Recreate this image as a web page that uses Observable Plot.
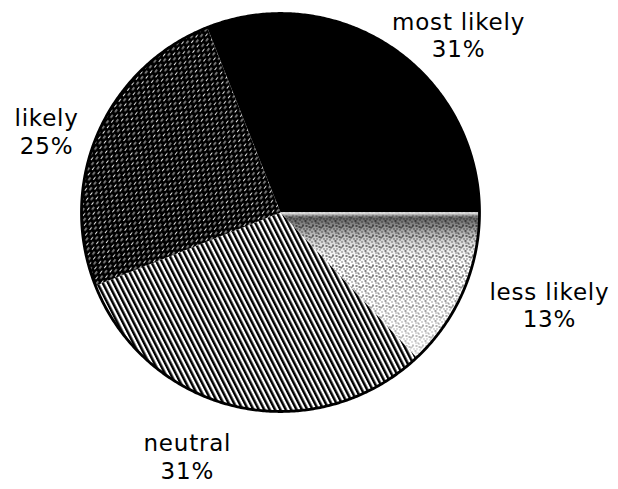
<!DOCTYPE html>
<html>
<head>
<meta charset="utf-8">
<script src="https://cdn.jsdelivr.net/npm/d3@7"></script>
<script src="https://cdn.jsdelivr.net/npm/@observablehq/plot@0.6"></script>
<style>
  html, body { margin: 0; padding: 0; background: #fff; }
  #defs { position: absolute; width: 0; height: 0; overflow: hidden; }
</style>
</head>
<body>
<svg id="defs" width="0" height="0" aria-hidden="true">
  <defs>
    <!-- stippled texture -->
    <pattern id="stipple" patternUnits="userSpaceOnUse" width="10" height="10">
      <rect width="10" height="10" fill="#fff"/>
      <g fill="#000">
        <rect x="1" y="1" width="1" height="1"/>
        <rect x="4" y="0" width="2" height="1"/>
        <rect x="7" y="2" width="1" height="1"/>
        <rect x="2" y="4" width="1" height="2"/>
        <rect x="5" y="5" width="2" height="1"/>
        <rect x="8" y="6" width="2" height="1"/>
        <rect x="0" y="7" width="1" height="1"/>
        <rect x="3" y="8" width="1" height="1"/>
        <rect x="6" y="8" width="1" height="1"/>
        <rect x="9" y="9" width="1" height="1"/>
        <rect x="5" y="2" width="1" height="1"/>
        <rect x="1" y="6" width="1" height="1"/>
        <rect x="8" y="3" width="1" height="1"/>
      </g>
    </pattern>
    <linearGradient id="fade" x1="0" y1="0" x2="0" y2="1">
      <stop offset="0" stop-color="#fff" stop-opacity="0.9"/>
      <stop offset="0.04" stop-color="#000" stop-opacity="0.6"/>
      <stop offset="0.16" stop-color="#000" stop-opacity="0.25"/>
      <stop offset="0.38" stop-color="#fff" stop-opacity="0"/>
      <stop offset="1" stop-color="#fff" stop-opacity="0.6"/>
    </linearGradient>
    <!-- diagonal stripes -->
    <pattern id="diag" patternUnits="userSpaceOnUse" width="4.8" height="10" patternTransform="rotate(-27)">
      <rect width="4.8" height="10" fill="#fff"/>
      <rect width="2.5" height="10" fill="#000"/>
    </pattern>
    <!-- dense dark hatch -->
    <pattern id="dense" patternUnits="userSpaceOnUse" width="7" height="7" patternTransform="rotate(-52)">
      <rect width="7" height="7" fill="#000"/>
      <rect x="0" y="1" width="3.4" height="0.9" fill="#fff"/>
      <rect x="3.5" y="4.5" width="3.4" height="0.9" fill="#fff"/>
    </pattern>
  </defs>
</svg>
<div id="chart"></div>
<script>
// ---- data ----
const categories = ["most likely", "less likely", "neutral", "likely"];
const percents = [31, 13, 31, 25];

// ---- styles (not data) ----
const fillOf = {
  "most likely": "#000",
  "less likely": "url(#stipple)",
  "neutral": "url(#diag)",
  "likely": "url(#dense)"
};
// label nudges in pixels from the mid-angle anchor
const nudgeOf = {
  "most likely": [36, 31],
  "less likely": [37, -8],
  "neutral": [-38, -3],
  "likely": [-2, 19]
};

// ---- layout ----
const W = 618, H = 489, cx = 280, cy = 212, R = 199;
const labelR = 1.27;

const rows = categories.map((c, i) => ({category: c, value: percents[i]}));
const total = d3.sum(percents);
const start = Math.PI / 2 - percents[0] / total * 2 * Math.PI; // first slice ends at 3 o'clock
const arcs = d3.pie().sort(null).value(d => d.value)
  .startAngle(start).endAngle(start + 2 * Math.PI)(rows);

const polys = arcs.flatMap(a => {
  const c = a.data.category;
  const n = Math.max(2, Math.ceil((a.endAngle - a.startAngle) / (Math.PI / 360)));
  const pts = [{category: c, x: 0, y: 0}];
  for (let k = 0; k <= n; k++) {
    const t = a.startAngle + (a.endAngle - a.startAngle) * k / n;
    pts.push({category: c, x: Math.sin(t), y: Math.cos(t)});
  }
  pts.push({category: c, x: 0, y: 0});
  return pts;
});

const circle = d3.range(0, 721).map(k => {
  const t = k / 720 * 2 * Math.PI;
  return {x: Math.sin(t), y: Math.cos(t)};
});

const labels = arcs.map(a => {
  const m = (a.startAngle + a.endAngle) / 2;
  return {
    category: a.data.category,
    x: Math.sin(m) * labelR,
    y: Math.cos(m) * labelR,
    text: `${a.data.category}\n${a.data.value}%`
  };
});

const textMarks = labels.map(l => Plot.text([l], {
  x: "x", y: "y", text: "text",
  dx: nudgeOf[l.category][0], dy: nudgeOf[l.category][1],
  fontSize: 23, lineHeight: 1.2, lineAnchor: "middle", textAnchor: "middle",
  fill: "#000", fontFamily: "DejaVu Sans"
}));

const plot = Plot.plot({
  width: W, height: H,
  marginTop: 0, marginRight: 0, marginBottom: 0, marginLeft: 0,
  x: {domain: [-cx / R, (W - cx) / R], axis: null},
  y: {domain: [-(H - cy) / R, cy / R], axis: null},
  color: {type: "identity"},
  style: {background: "#fff", letterSpacing: "0.8px"},
  marks: [
    Plot.line(polys, {x: "x", y: "y", z: "category", fill: d => fillOf[d.category], stroke: "none"}),
    Plot.line(polys.filter(d => d.category === "less likely"), {x: "x", y: "y", fill: "url(#fade)", stroke: "none"}),
    Plot.line(circle, {x: "x", y: "y", stroke: "#000", strokeWidth: 2.8, fill: "none"}),
    ...textMarks
  ]
});
document.getElementById("chart").appendChild(plot);
</script>
</body>
</html>
